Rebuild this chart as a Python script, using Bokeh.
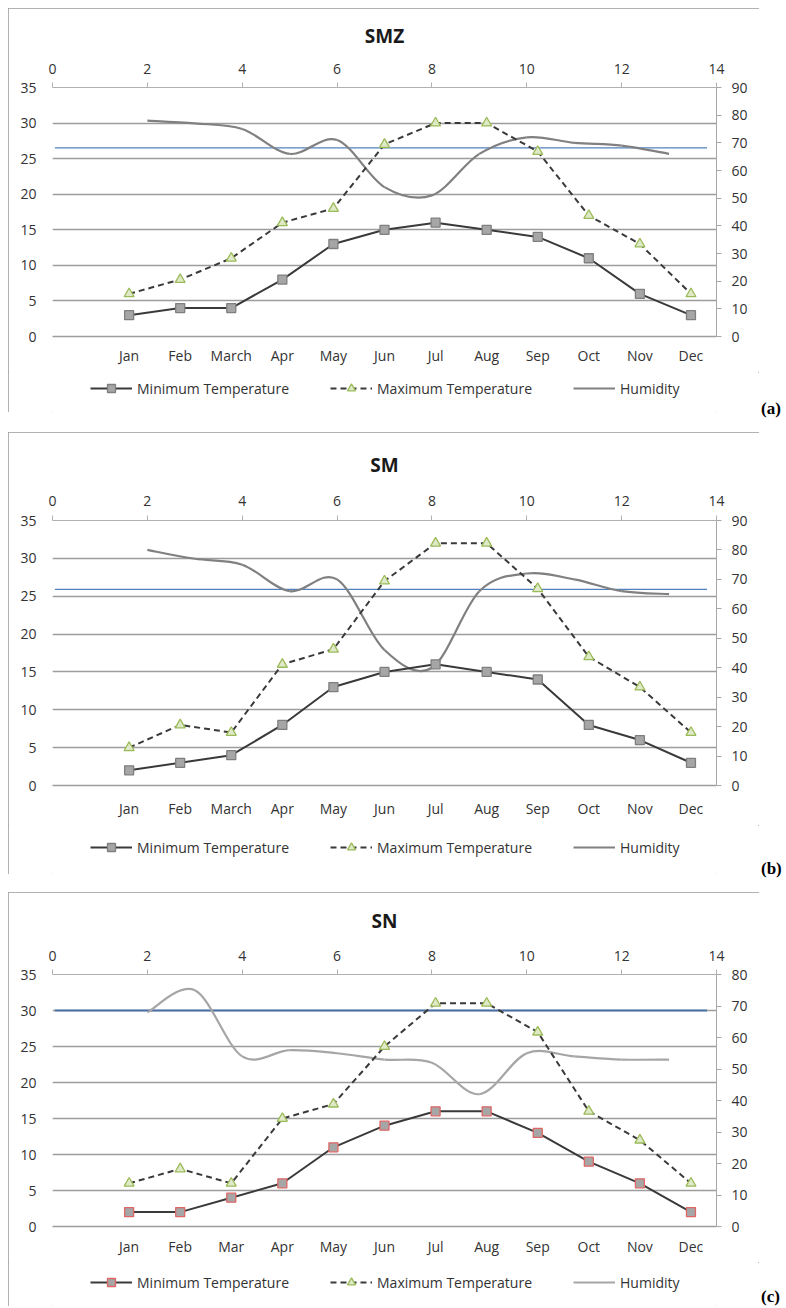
from bokeh.plotting import figure
from bokeh.models import (Range1d, LinearAxis, FixedTicker, Legend, LegendItem,
                          ColumnDataSource, Div, Spacer)
from bokeh.layouts import column, row
from bokeh.embed import file_html
from bokeh.resources import INLINE

# ---------------- data ----------------
months_ab = ["Jan", "Feb", "March", "Apr", "May", "Jun", "Jul", "Aug", "Sep", "Oct", "Nov", "Dec"]
months_c = ["Jan", "Feb", "Mar", "Apr", "May", "Jun", "Jul", "Aug", "Sep", "Oct", "Nov", "Dec"]
top_ticks = [0, 2, 4, 6, 8, 10, 12, 14]
temp_ticks = [0, 5, 10, 15, 20, 25, 30, 35]
humidity_x = [2, 3, 4, 5, 6, 7, 8, 9, 10, 11, 12, 13]

smz_min = [3, 4, 4, 8, 13, 15, 16, 15, 14, 11, 6, 3]
smz_max = [6, 8, 11, 16, 18, 27, 30, 30, 26, 17, 13, 6]
smz_hum = [78, 77, 75, 66, 71, 54, 51, 66, 72, 70, 69, 66]

sm_min = [2, 3, 4, 8, 13, 15, 16, 15, 14, 8, 6, 3]
sm_max = [5, 8, 7, 16, 18, 27, 32, 32, 26, 17, 13, 7]
sm_hum = [80, 77, 75, 66, 70, 46, 40, 66, 72, 70, 66, 65]

sn_min = [2, 2, 4, 6, 11, 14, 16, 16, 13, 9, 6, 2]
sn_max = [6, 8, 6, 15, 17, 25, 31, 31, 27, 16, 12, 6]
sn_hum = [68, 75, 54, 56, 55, 53, 52, 42, 55, 54, 53, 53]

titles = ["SMZ", "SM", "SN"]
letters = ["(a)", "(b)", "(c)"]
legend_labels = ["Minimum Temperature", "Maximum Temperature", "Humidity"]
humidity_axis_max = [90, 90, 80]
reference_level = [26.5, 25.9, 30.0]   # blue horizontal line, in °C (left axis)

FONT = "Open Sans"
TXT = "#333333"
GRID = "#9d9d9d"
LINE_DARK = "#3a3a3a"
TRI_FILL, TRI_LINE = "#dfe9c8", "#9bbb59"


def bezier_segments(xs, ys):
    n = len(xs)
    d = {k: [] for k in ("x0", "y0", "x1", "y1", "cx0", "cy0", "cx1", "cy1")}
    for i in range(n - 1):
        ip = max(i - 1, 0)
        inx = min(i + 2, n - 1)
        d["x0"].append(xs[i]); d["y0"].append(ys[i])
        d["x1"].append(xs[i + 1]); d["y1"].append(ys[i + 1])
        d["cx0"].append(xs[i] + (xs[i + 1] - xs[ip]) / 6.0)
        d["cy0"].append(ys[i] + (ys[i + 1] - ys[ip]) / 6.0)
        d["cx1"].append(xs[i + 1] - (xs[inx] - xs[i]) / 6.0)
        d["cy1"].append(ys[i + 1] - (ys[inx] - ys[i]) / 6.0)
    return d


# layout, picture pixel coordinates
layouts = [
    dict(top=8, bottom=412, frame_top=87, frame_bottom=336, main_bottom=372, top_off=9, bot_off=9,
         title_standoff=24, legend_y=388, letter_y=409),
    dict(top=432, bottom=874, frame_top=520, frame_bottom=785, main_bottom=825, top_off=10, bot_off=13,
         title_standoff=30, legend_y=847, letter_y=869),
    dict(top=892, bottom=1306, frame_top=974, frame_bottom=1226, main_bottom=1262, top_off=9, bot_off=10,
         title_standoff=27, legend_y=1282, letter_y=1297),
]
gaps = [20, 18]
LEFT = 8
FIG_W = 751
FRAME_L = 52
FRAME_R = 716
LETTER_W = 786 - LEFT - FIG_W
LEGEND_X = 90


def style_min(k):
    return dict(marker="square", size=9, fill_color="#a6a6a6",
                line_color="#e06666" if k == 2 else "#7f7f7f", line_width=1.3)


def style_max():
    return dict(marker="triangle", size=10, fill_color=TRI_FILL, line_color=TRI_LINE, line_width=1.3)


def hum_color(k):
    return "#a6a6a6" if k == 2 else "#808080"


def make_panel(k, tmin, tmax, hum, months):
    lay = layouts[k]
    hmax = humidity_axis_max[k]
    main_h = lay["main_bottom"] - lay["top"]
    p = figure(width=FIG_W, height=main_h, x_range=Range1d(0, 14), y_range=Range1d(0, 35),
               x_axis_location="above", output_backend="svg", toolbar_location=None,
               min_border_left=FRAME_L - LEFT, min_border_right=LEFT + FIG_W - FRAME_R,
               min_border_top=lay["frame_top"] - lay["top"],
               min_border_bottom=lay["main_bottom"] - lay["frame_bottom"],
               title=titles[k])
    p.outline_line_color = None
    p.title.align = "center"
    p.title.offset = -3
    p.title.standoff = lay["title_standoff"]
    p.title.text_font = FONT
    p.title.text_font_size = "19px"
    p.title.text_font_style = "bold"
    p.title.text_color = "#1a1a1a"
    p.extra_y_ranges = {"hum": Range1d(0, hmax)}
    p.extra_x_ranges = {"mon": Range1d(-1.5, 11.5)}

    ax = p.xaxis[0]
    ax.ticker = FixedTicker(ticks=top_ticks)
    ax.axis_line_color = "#b0b0b0"
    ax.major_tick_line_color = "#b0b0b0"
    ax.major_tick_out = 5
    ax.major_tick_in = 0
    ax.minor_tick_line_color = None
    ax.major_label_standoff = lay["top_off"]
    ay = p.yaxis[0]
    ay.ticker = FixedTicker(ticks=temp_ticks)
    ay.axis_line_color = None
    ay.major_tick_line_color = None
    ay.minor_tick_line_color = None
    ay.major_label_standoff = 10
    ar = LinearAxis(y_range_name="hum", ticker=FixedTicker(ticks=list(range(0, hmax + 1, 10))))
    ar.axis_line_color = "#a6a6a6"
    ar.major_tick_line_color = "#a6a6a6"
    ar.major_tick_out = 5
    ar.major_tick_in = 0
    ar.minor_tick_line_color = None
    ar.major_label_standoff = 10
    p.add_layout(ar, "right")
    ab = LinearAxis(x_range_name="mon", ticker=FixedTicker(ticks=list(range(len(months)))),
                    major_label_overrides={i: m for i, m in enumerate(months)})
    ab.axis_line_color = GRID
    ab.axis_line_width = 1.3
    ab.major_tick_line_color = None
    ab.minor_tick_line_color = None
    ab.major_tick_out = 0
    ab.major_label_standoff = lay["bot_off"]
    p.add_layout(ab, "below")

    for a in (ax, ay, ar, ab):
        a.major_label_text_font = FONT
        a.major_label_text_font_size = "14px"
        a.major_label_text_color = TXT

    p.xgrid.visible = False
    p.ygrid.ticker = FixedTicker(ticks=temp_ticks[:-1])
    p.ygrid.grid_line_color = GRID
    p.ygrid.grid_line_width = 1.3

    # blue reference line
    p.segment(x0=[0.05], y0=[reference_level[k]], x1=[13.8], y1=[reference_level[k]],
              line_color="#4a70a8" if k == 2 else "#4f81bd", line_width=2.0 if k == 2 else 1.3)

    # humidity (smoothed curve through the monthly points)
    hsrc = ColumnDataSource(bezier_segments(humidity_x, hum))
    p.bezier(x0="x0", y0="y0", x1="x1", y1="y1", cx0="cx0", cy0="cy0", cx1="cx1", cy1="cy1",
             source=hsrc, y_range_name="hum", line_color=hum_color(k), line_width=2.2)

    src = ColumnDataSource(dict(m=list(range(len(months))), tmin=tmin, tmax=tmax))
    p.line("m", "tmax", source=src, x_range_name="mon", line_color=LINE_DARK,
           line_width=2, line_dash="6 4")
    p.line("m", "tmin", source=src, x_range_name="mon", line_color=LINE_DARK, line_width=2)
    p.scatter("m", "tmin", source=src, x_range_name="mon", **style_min(k))
    p.scatter("m", "tmax", source=src, x_range_name="mon", **style_max())

    # legend strip (own small canvas under the chart, inside the same frame box);
    # its sample renderers sit outside the visible range and only feed the legend.
    leg_h = lay["bottom"] - lay["main_bottom"]
    lf = figure(width=FIG_W, height=leg_h, x_range=Range1d(0, 1), y_range=Range1d(0, 1),
                x_axis_type=None, y_axis_type=None, toolbar_location=None,
                output_backend="svg", min_border=0, title=None)
    lf.outline_line_color = None
    off = dict(x=[-5, -4], y=[-5, -5])
    l1 = lf.line(line_color=LINE_DARK, line_width=2, **off)
    s1 = lf.scatter(**off, **style_min(k))
    l2 = lf.line(line_color=LINE_DARK, line_width=2, line_dash="6 4", **off)
    s2 = lf.scatter(**off, **style_max())
    l3 = lf.line(line_color=hum_color(k), line_width=2.2, **off)
    legend = Legend(items=[LegendItem(label=legend_labels[0], renderers=[l1, s1], index=0),
                           LegendItem(label=legend_labels[1], renderers=[l2, s2], index=0),
                           LegendItem(label=legend_labels[2], renderers=[l3], index=0)],
                    orientation="horizontal",
                    location=(LEGEND_X - FRAME_L, lay["bottom"] - (lay["legend_y"] + 10)),
                    glyph_width=42, glyph_height=20, label_height=20, label_standoff=5,
                    spacing=41, padding=0, margin=0, background_fill_alpha=0, border_line_alpha=0,
                    label_text_font=FONT, label_text_font_size="14px", label_text_color=TXT)
    lf.add_layout(legend)

    box = column(p, lf, spacing=0,
                 styles={"outline": "1px solid #999999", "outline-offset": "-1px"})

    top_pad = lay["letter_y"] - lay["top"] - 8
    letter = Div(text=f'<div style="padding-top:{top_pad}px;padding-left:2px;'
                      f'font-family:\'Liberation Serif\';font-weight:bold;font-size:17px;'
                      f'line-height:16px;color:#000;white-space:nowrap">{letters[k]}</div>',
                 width=LETTER_W, height=lay["bottom"] - lay["top"], margin=0)
    return row(Spacer(width=LEFT, height=lay["bottom"] - lay["top"], margin=0), box, letter,
               spacing=0)


ra = make_panel(0, smz_min, smz_max, smz_hum, months_ab)
rb = make_panel(1, sm_min, sm_max, sm_hum, months_ab)
rc = make_panel(2, sn_min, sn_max, sn_hum, months_c)

layout = column(Spacer(height=layouts[0]["top"], width=10, margin=0), ra,
                Spacer(height=gaps[0], width=10, margin=0), rb,
                Spacer(height=gaps[1], width=10, margin=0), rc, spacing=0)
open("out.html", "w").write(file_html(layout, INLINE))
